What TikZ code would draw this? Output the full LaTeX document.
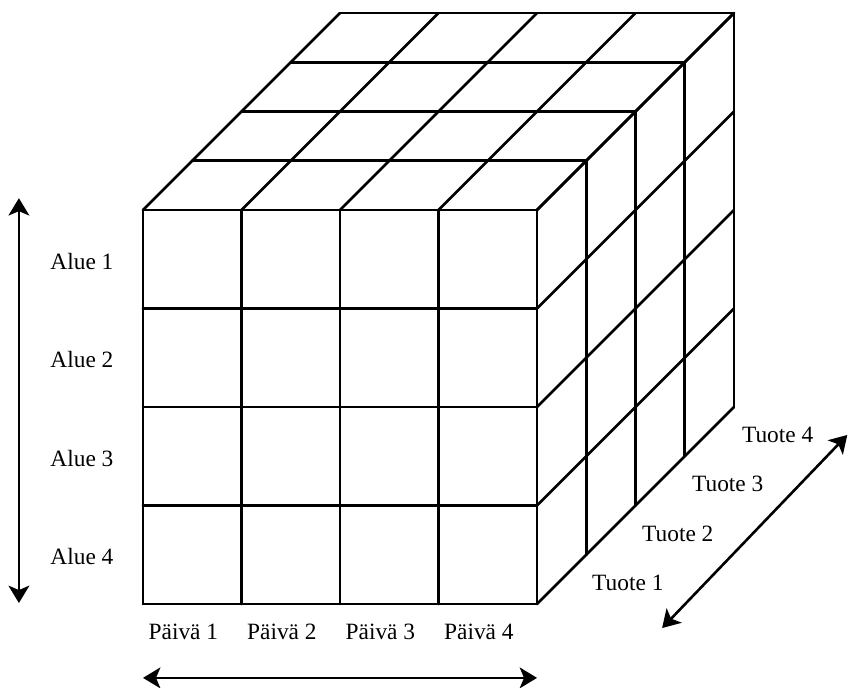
\documentclass[tikz,border=0pt]{standalone}
\usepackage{fontspec}
\setmainfont{Liberation Serif}
\usepackage{tikz}
\usetikzlibrary{positioning, arrows.meta, calc}

\begin{document}
\begin{tikzpicture}[x=2cm, y=2cm,
    gridline/.style={line width=1.5pt, line cap=round},
    axisarrow/.style={line width=1.5pt,
      {Stealth[length=10pt, width=12pt, inset=2.5pt]}-{Stealth[length=10pt, width=12pt, inset=2.5pt]}},
    axislabel/.style={font=\fontsize{13.5}{16}\selectfont, inner sep=0pt}]
  \useasboundingbox (-1.452,-0.843) rectangle (7.157,6.132);

  % front face
  \foreach \i in {0,...,4} {
    \draw[gridline] (0,\i) -- (4,\i);
    \draw[gridline] (\i,0) -- (\i,4);
  }
  % top face
  \foreach \i in {0,...,4} {
    \draw[gridline] (\i,4) -- ++(2,2);
    \draw[gridline] ({0.5*\i},{4+0.5*\i}) -- ++(4,0);
  }
  % right face
  \foreach \i in {0,...,4} {
    \draw[gridline] (4,\i) -- ++(2,2);
    \draw[gridline] ({4+0.5*\i},{0.5*\i}) -- ++(0,4);
  }

  % labels
  \foreach \k in {1,...,4} {
    \node[axislabel] (alue\k) at (-0.62,{4.48-\k}) {Alue \k};
    \node[axislabel] (paiva\k) at ({\k-0.59},-0.28) {Päivä \k};
    \node[axislabel] (tuote\k) at ({4.415+0.507*\k},{-0.29+0.502*\k}) {Tuote \k};
  }

  % arrows
  \coordinate (alueTop) at (-1.26,4.12);
  \coordinate (alueBot) at (-1.26,0.01);
  \coordinate (paivaLeft) at (0,-0.75);
  \coordinate (paivaRight) at (4,-0.75);
  \coordinate (tuoteLow) at (5.27,-0.244);
  \coordinate (tuoteHigh) at (7.15,1.716);
  \draw[axisarrow] (alueTop) -- (alueBot);
  \draw[axisarrow] (paivaLeft) -- (paivaRight);
  \draw[axisarrow] (tuoteLow) -- (tuoteHigh);
\end{tikzpicture}
\end{document}
